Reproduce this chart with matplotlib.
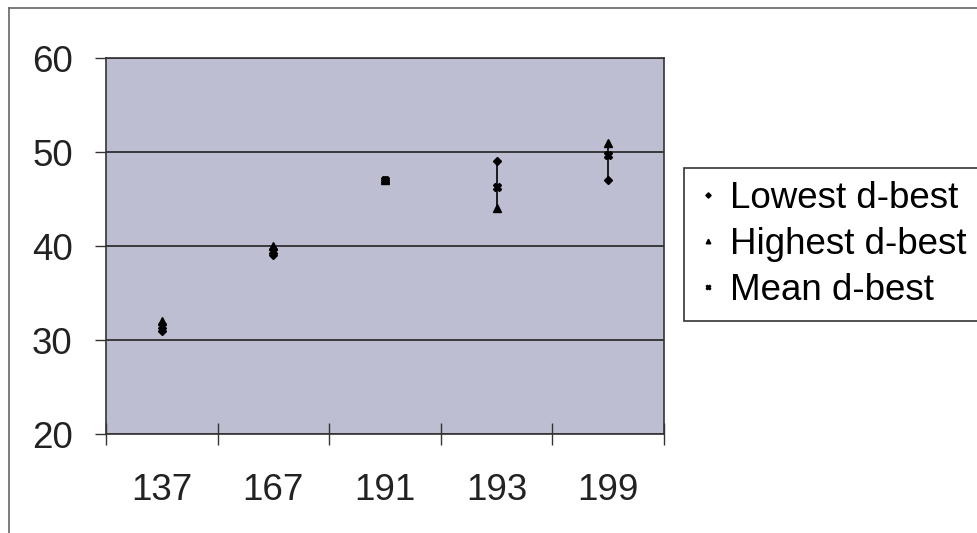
import matplotlib
matplotlib.use("Agg")
import matplotlib.pyplot as plt
from matplotlib.lines import Line2D
import numpy as np

categories = ['137', '167', '191', '193', '199']
lowest = [31, 39, 47, 49, 47]
highest = [32, 40, 47, 44, 51]
mean = [31.5, 39.5, 47, 46.3, 49.7]
yticks = [20, 30, 40, 50, 60]

plt.rcParams['font.family'] = ['Liberation Sans', 'DejaVu Sans']

W, H = 977, 533
FS = 26.5
fig = plt.figure(figsize=(W / 100, H / 100), dpi=100)
fig.patch.set_facecolor('white')

# outer chart frame (left and top edges visible)
fig.add_artist(Line2D([9 / W, 9 / W], [0, 1 - 8 / H], transform=fig.transFigure, color='#666666', lw=1.2))
fig.add_artist(Line2D([9 / W, 1], [1 - 8 / H, 1 - 8 / H], transform=fig.transFigure, color='#666666', lw=1.2))

ax = fig.add_axes([106 / W, 1 - 434 / H, 558 / W, 376 / H])
ax.set_facecolor('#bebed2')

x = np.arange(len(categories))
lo = np.minimum(np.minimum(lowest, highest), mean)
hi = np.maximum(np.maximum(lowest, highest), mean)
ax.vlines(x, lo, hi, color='black', lw=1.2, zorder=3)
ax.plot(x, lowest, linestyle='none', marker='D', markersize=4.5, color='black', zorder=4, label='Lowest d-best')
ax.plot(x, highest, linestyle='none', marker='^', markersize=5.5, color='black', zorder=4, label='Highest d-best')
ax.plot(x, mean, linestyle='none', marker='X', markersize=5.5, color='black', zorder=4, label='Mean d-best')

ax.set_xlim(-0.5, len(categories) - 0.5)
ax.set_ylim(20, 60)
ax.set_yticks(yticks)
ax.set_yticklabels([str(v) for v in yticks], fontsize=FS, color='#222222')
ax.set_xticks(x)
ax.set_xticklabels(categories, fontsize=FS, color='#222222')
ax.tick_params(axis='x', which='major', length=0, pad=28)
ax.set_xticks(np.arange(-0.5, len(categories)), minor=True)
ax.tick_params(axis='x', which='minor', direction='inout', length=16, width=1, color='#333333')
ax.tick_params(axis='y', which='major', direction='out', length=8, width=1, color='#333333', pad=16)
ax.grid(axis='y', color='#222222', lw=1.2)
ax.set_axisbelow(True)
for s in ax.spines.values():
    s.set_color('#333333')
    s.set_linewidth(1.2)

leg = fig.legend(loc='upper left', bbox_to_anchor=(684 / W, 1 - 168 / H), fontsize=FS,
                 frameon=True, fancybox=False, edgecolor='#333333', framealpha=1,
                 handlelength=0.6, handletextpad=0.3, borderpad=0.35, labelspacing=0.3,
                 markerscale=0.6, borderaxespad=0)
leg.get_frame().set_linewidth(1.2)

fig.savefig('out.png', dpi=100)
